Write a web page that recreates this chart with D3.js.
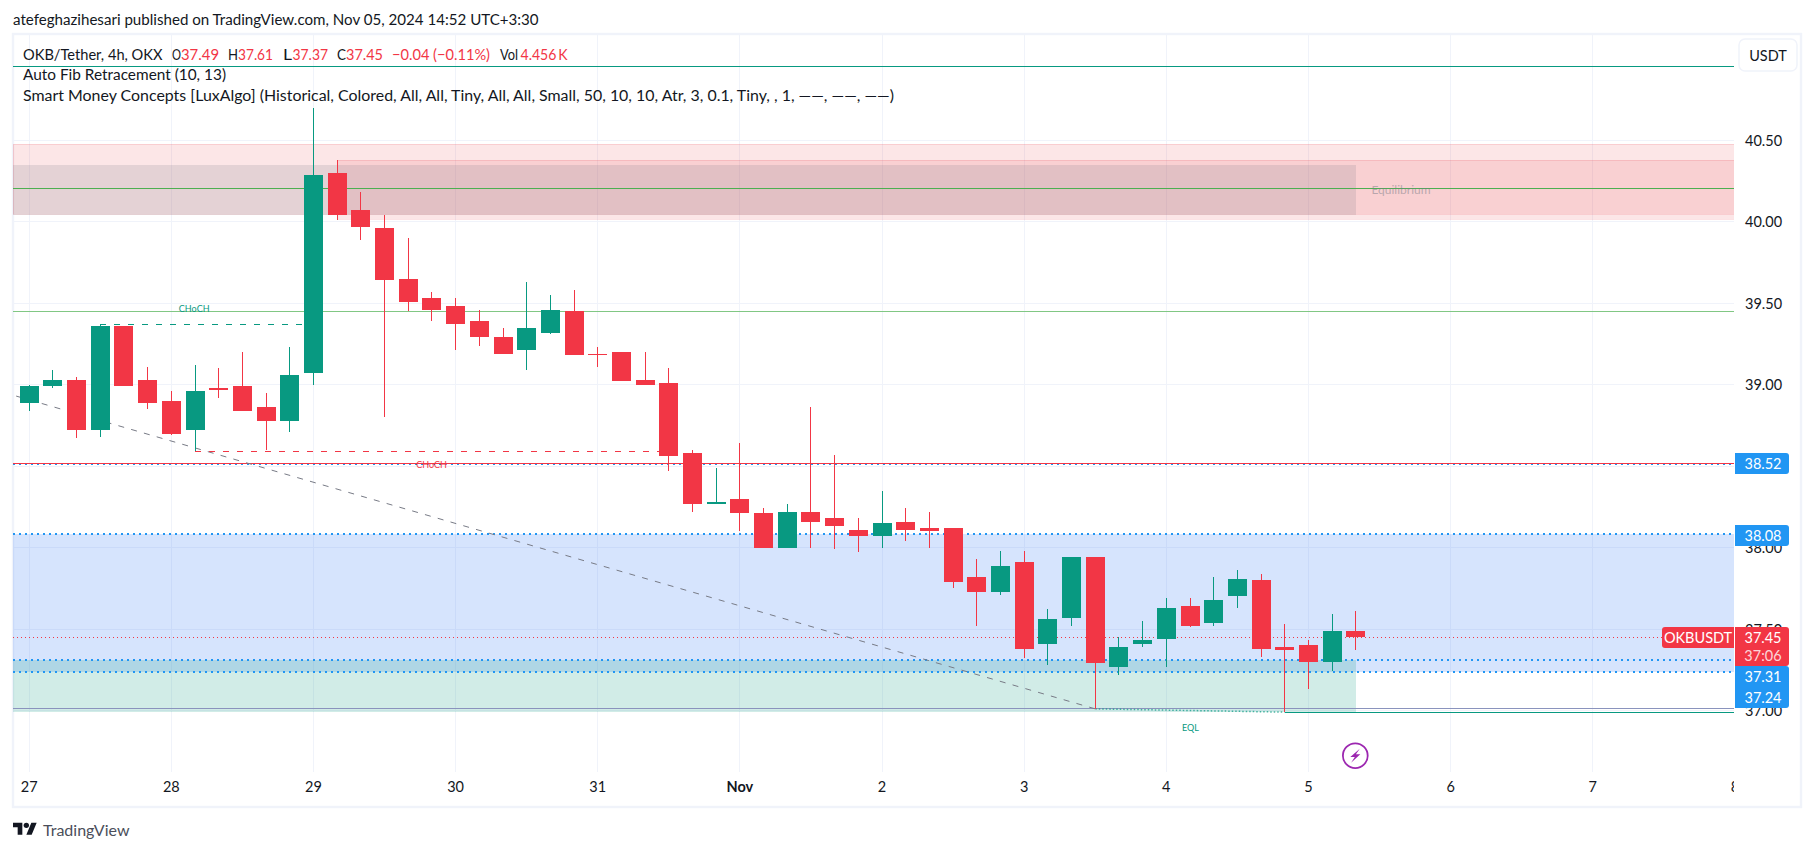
<!DOCTYPE html>
<html><head><meta charset="utf-8">
<style>
html,body{margin:0;padding:0;background:#fff;overflow:hidden}
svg{display:block}
text{font-family:Lato,"Noto Sans",sans-serif}
</style>
<script src="https://cdn.jsdelivr.net/npm/d3@7"></script>
</head><body>
<svg id="c" width="1814" height="851"></svg>
<script>
// ---- data ----
const opens  = [38.89,38.99,39.03,38.72,39.36,39.03,38.90,38.72,38.98,38.99,38.86,38.78,39.07,40.30,40.07,39.96,39.65,39.53,39.48,39.39,39.29,39.21,39.32,39.45,39.19,39.20,39.03,39.01,38.58,38.27,38.30,38.21,38.00,38.22,38.18,38.11,38.07,38.16,38.12,38.12,37.82,37.73,37.91,37.41,37.57,37.94,37.27,37.41,37.44,37.64,37.54,37.70,37.80,37.39,37.40,37.30,37.49];
const highs  = [39.00,39.09,39.05,39.37,39.36,39.11,38.96,39.12,39.10,39.20,38.95,39.23,40.70,40.38,40.18,40.04,39.90,39.57,39.53,39.46,39.35,39.63,39.55,39.58,39.23,39.20,39.20,39.10,38.60,38.49,38.64,38.24,38.27,38.86,38.57,38.18,38.35,38.24,38.22,38.12,37.93,37.98,37.98,37.62,37.94,37.94,37.45,37.55,37.69,37.69,37.82,37.86,37.84,37.53,37.43,37.59,37.61];
const lows   = [38.84,38.98,38.67,38.68,38.99,38.85,38.69,38.59,38.92,38.84,38.60,38.71,39.00,40.01,39.89,38.80,39.45,39.39,39.21,39.24,39.19,39.09,39.31,39.18,39.11,39.02,39.00,38.47,38.22,38.27,38.10,38.00,38.00,38.00,37.99,37.97,38.00,38.04,38.00,37.75,37.52,37.71,37.32,37.28,37.52,37.01,37.22,37.39,37.27,37.51,37.52,37.63,37.33,36.99,37.13,37.24,37.37];
const closes = [38.99,39.03,38.72,39.36,38.99,38.89,38.70,38.96,38.97,38.84,38.78,39.06,40.29,40.04,39.97,39.64,39.51,39.46,39.37,39.29,39.19,39.35,39.46,39.18,39.18,39.02,39.00,38.56,38.27,38.28,38.21,38.00,38.22,38.16,38.13,38.07,38.15,38.11,38.10,37.79,37.73,37.89,37.38,37.56,37.94,37.29,37.39,37.43,37.63,37.52,37.68,37.81,37.38,37.37,37.30,37.49,37.45];
const priceTicks = [40.5,40,39.5,39,38.5,38,37.5,37];
const dayLabels  = ["27","28","29","30","31","Nov","2","3","4","5","6","7","8"];
const legendPieces = [
  ["OKB/Tether, 4h, OKX",23,162.5,"#131722"],["O",172,181,"#131722"],["37.49",181,219,"#f23645"],
  ["H",228,238,"#131722"],["37.61",238,273,"#f23645"],["L",283,292,"#131722"],["37.37",292.5,328,"#f23645"],
  ["C",337,346,"#131722"],["37.45",346,383,"#f23645"],["\u22120.04 (\u22120.11%)",392,490,"#f23645"],
  ["Vol",500,518,"#131722"],["4.456\u2009K",520.5,567.5,"#f23645"]];
const indicatorLines = [
  ["Auto Fib Retracement (10, 13)",23,226,74],
  ["Smart Money Concepts [LuxAlgo] (Historical, Colored, All, All, Tiny, All, All, Small, 50, 10, 10, Atr, 3, 0.1, Tiny, , 1, \u2014\u2014, \u2014\u2014, \u2014\u2014)",23,894,95]];
const supplyZones = [[-1,40.477,40.05],[13,40.38,40.015]];   // [start candle, top, bottom]
const equilibriumBand = [40.35,40.04];
const blueZone = [38.085,37.235];
const demandZone = [37.31,36.99];
const solidLevels = [[40.954,"#089981"],[40.205,"#4caf50"],[39.45,"#81c784"],[38.515,"#f23645"],[37.01,"#8a93bd"]];
const blueDotted = [38.515,38.085,37.31,37.235];
const lastPrice = 37.45;
const fibStart = [-0.55,38.93], fibMid = [45,37.01], fibEnd = [53,36.99];
const chochUp = [3,39.37,11.9], chochDown = [7,38.59,27];
const axisTags = [["38.52",38.52],["38.08",38.08]];

// ---- layout ----
const W=1814,H=851, L=13,R=1734,T=35,B=772;
const svg=d3.select("#c");
const x=d3.scaleLinear().domain([0,6]).range([29.2,171.34]);   // candle index → px (6 candles a day)
const y=d3.scaleLinear().domain([40.5,37]).range([140.3,710.5]);
const px=v=>Math.floor(y(v))+.5;
const zoneEnd=1356;

const defs=svg.append("defs");
defs.append("clipPath").attr("id","plot").append("rect")
  .attr("x",L).attr("y",T).attr("width",R-L).attr("height",B-T);
defs.append("clipPath").attr("id","tscale").append("rect")
  .attr("x",L).attr("y",772).attr("width",R-L).attr("height",34);

// frame
svg.append("rect").attr("x",13).attr("y",34).attr("width",1788).attr("height",773)
  .attr("fill","#fff").attr("stroke","#f0f3fa").attr("stroke-width",2.4);

const dayIdx=dayLabels.map((_,i)=>i*6);

// grid
const grid=svg.append("g").attr("clip-path","url(#plot)").attr("shape-rendering","crispEdges").attr("stroke","#f0f3fa");
grid.selectAll(".v").data(dayIdx).join("line").attr("x1",d=>Math.floor(x(d))+.5).attr("x2",d=>Math.floor(x(d))+.5).attr("y1",T).attr("y2",B);
grid.selectAll(".h").data(priceTicks).join("line").attr("y1",px).attr("y2",px).attr("x1",L).attr("x2",R);

const plot=svg.append("g").attr("clip-path","url(#plot)");

// zones
plot.selectAll(".sz").data(supplyZones).join("rect")
  .attr("x",d=>d[0]<0?L:Math.floor(x(d[0])))
  .attr("width",d=>R-(d[0]<0?L:Math.floor(x(d[0]))))
  .attr("y",d=>Math.round(y(d[1]))).attr("height",d=>Math.round(y(d[2]))-Math.round(y(d[1])))
  .attr("fill","#ea3a46").attr("fill-opacity",.13).attr("stroke","#ea3a46").attr("stroke-opacity",.14).attr("shape-rendering","crispEdges");
plot.append("rect").attr("x",L).attr("width",zoneEnd-L)
  .attr("y",y(equilibriumBand[0])).attr("height",y(equilibriumBand[1])-y(equilibriumBand[0]))
  .attr("fill","#787b86").attr("fill-opacity",.18).attr("shape-rendering","crispEdges");
plot.append("rect").attr("x",L).attr("width",R-L)
  .attr("y",Math.round(y(blueZone[0]))).attr("height",Math.round(y(blueZone[1]))-Math.round(y(blueZone[0])))
  .attr("fill","#2771f4").attr("fill-opacity",.19).attr("shape-rendering","crispEdges");
plot.append("rect").attr("x",L).attr("width",zoneEnd-L)
  .attr("y",Math.round(y(demandZone[0]))).attr("height",Math.round(y(demandZone[1]))-Math.round(y(demandZone[0])))
  .attr("fill","#089981").attr("fill-opacity",.19).attr("shape-rendering","crispEdges");

// blue dotted levels
plot.selectAll(".bd").data(blueDotted).join("line")
  .attr("x1",L).attr("x2",R).attr("y1",d=>Math.round(y(d))).attr("y2",d=>Math.round(y(d)))
  .attr("stroke","#2196f3").attr("stroke-width",2).attr("stroke-dasharray","2 4").attr("shape-rendering","crispEdges");

// solid levels
plot.selectAll(".lvl").data(solidLevels).join("line")
  .attr("x1",L).attr("x2",R).attr("y1",d=>px(d[0])).attr("y2",d=>px(d[0]))
  .attr("stroke",d=>d[1]).attr("shape-rendering","crispEdges");

// last price dotted
plot.append("line").attr("x1",L).attr("x2",R).attr("y1",px(lastPrice)).attr("y2",px(lastPrice))
  .attr("stroke","#f23645").attr("stroke-dasharray","1 3").attr("shape-rendering","crispEdges");

// fib trend lines
plot.append("line").attr("x1",x(fibStart[0])).attr("y1",y(fibStart[1])).attr("x2",x(fibMid[0])).attr("y2",y(fibMid[1]))
  .attr("stroke","#787b86").attr("stroke-dasharray","6 7.3");
plot.append("line").attr("x1",x(fibMid[0])).attr("y1",y(fibMid[1])).attr("x2",x(fibEnd[0])).attr("y2",y(fibEnd[1]))
  .attr("stroke","#089981").attr("stroke-opacity",.7).attr("stroke-width",1.5).attr("stroke-dasharray","1.5 2");
plot.append("line").attr("x1",x(fibEnd[0])).attr("y1",px(fibEnd[1])).attr("x2",R).attr("y2",px(fibEnd[1]))
  .attr("stroke","#089981").attr("shape-rendering","crispEdges");

// structure lines
plot.append("line").attr("x1",x(chochUp[0])).attr("x2",x(chochUp[2])).attr("y1",px(chochUp[1])).attr("y2",px(chochUp[1]))
  .attr("stroke","#089981").attr("stroke-dasharray","6 8").attr("shape-rendering","crispEdges");
plot.append("line").attr("x1",x(chochDown[0])).attr("x2",x(chochDown[2])).attr("y1",px(chochDown[1])).attr("y2",px(chochDown[1]))
  .attr("stroke","#f23645").attr("stroke-dasharray","6 8").attr("shape-rendering","crispEdges");

// candles
const idx=d3.range(opens.length);
const col=i=>closes[i]>=opens[i]?"#089981":"#f23645";
const cg=plot.append("g").attr("shape-rendering","crispEdges");
cg.selectAll(".w").data(idx).join("rect")
  .attr("x",i=>Math.floor(x(i))).attr("width",1)
  .attr("y",i=>Math.round(y(highs[i]))).attr("height",i=>Math.round(y(lows[i]))-Math.round(y(highs[i])))
  .attr("fill",col);
cg.selectAll(".b").data(idx).join("rect")
  .attr("x",i=>Math.floor(x(i))-9).attr("width",19)
  .attr("y",i=>Math.round(y(Math.max(opens[i],closes[i]))))
  .attr("height",i=>Math.max(1,Math.round(y(Math.min(opens[i],closes[i])))-Math.round(y(Math.max(opens[i],closes[i])))))
  .attr("fill",col);

// small labels
const small=(t,cx,cy,fill,fs,op)=>svg.append("text").attr("x",cx).attr("y",cy).attr("text-anchor","middle")
  .attr("dominant-baseline","central").attr("font-size",fs).attr("fill",fill).attr("fill-opacity",op||1).text(t);
small("CHoCH",194.2,308.7,"#089981",9);
small("CHoCH",431.5,464.5,"#f23645",9);
small("EQL",1190.5,727,"#089981",9);
small("Equilibrium",1401,189.5,"#787b86",12,.5);

// axes
const yAxis=d3.axisRight(y).tickValues(priceTicks).tickFormat(d3.format(".2f")).tickSize(0).tickPadding(0);
const ya=svg.append("g").attr("transform","translate(1745,0)").call(yAxis);
ya.select(".domain").remove();
ya.selectAll("text").attr("font-size",14.5).attr("fill","#131722").attr("font-family","Lato,sans-serif").attr("dy",".35em");

const xAxis=d3.axisBottom(x).tickValues(dayIdx).tickFormat((d,i)=>dayLabels[i]).tickSize(0).tickPadding(0);
const xa=svg.append("g").attr("clip-path","url(#tscale)").append("g").attr("transform","translate(-0.5,782)").call(xAxis);
xa.select(".domain").remove();
xa.selectAll("text").attr("font-size",14.5).attr("fill","#131722").attr("font-family","Lato,sans-serif")
  .attr("font-weight",(d,i)=>dayLabels[i]==="Nov"?700:400);

// axis tags
const tag=(x0,y0,w,h,fill,r)=>{
  const right=r==="r";
  const p=right?`M${x0},${y0}h${w-3}a3,3 0 0 1 3,3v${h-6}a3,3 0 0 1 -3,3h${-(w-3)}z`
               :`M${x0+w},${y0}h${-(w-3)}a3,3 0 0 0 -3,3v${h-6}a3,3 0 0 0 3,3h${w-3}z`;
  svg.append("path").attr("d",p).attr("fill",fill);
};
const tagText=(t,cx,cy,op)=>svg.append("text").attr("x",cx).attr("y",cy).attr("text-anchor","middle").attr("dominant-baseline","central")
  .attr("font-size",14.5).attr("fill","#fff").attr("fill-opacity",op||1).text(t);

axisTags.forEach(d=>{const yy=Math.round(y(d[1]));tag(1735,yy-10,54,21,"#2196f3","r");tagText(d[0],1763,yy+.5);});
tag(1735,666,54,42,"#2196f3","r");
tagText("37.31",1763,676.7);tagText("37.24",1763,697.7);
tag(1735,627,54,39,"#f23645","r");
tagText("37.45",1763,637);tagText("37:06",1763,655,.8);
tag(1662,627,72,21,"#f23645","l");
tagText("OKBUSDT",1698,637.5);

// USDT button
svg.append("rect").attr("x",1739).attr("y",39).attr("width",58).attr("height",32).attr("rx",6)
  .attr("fill","#fff").attr("stroke","#f0f3fa").attr("stroke-width",1.5);
svg.append("text").attr("x",1768).attr("y",55).attr("text-anchor","middle").attr("dominant-baseline","central")
  .attr("font-size",14.5).attr("fill","#131722").text("USDT");

// texts
const fit=(t,x0,x1,cy,fill)=>svg.append("text").attr("x",x0).attr("y",cy).attr("dominant-baseline","central")
  .attr("font-size",14.5).attr("fill",fill).attr("textLength",x1-x0).attr("lengthAdjust","spacingAndGlyphs").text(t);
fit("atefeghazihesari published on TradingView.com, Nov 05, 2024 14:52 UTC+3:30",13,538.6,19,"#131722");
legendPieces.forEach(d=>fit(d[0],d[1],d[2],54.5,d[3]));
indicatorLines.forEach(d=>fit(d[0],d[1],d[2],d[3],"#131722"));

// lightning icon
const bolt=svg.append("g").attr("transform","translate(1355.3,755.7)");
bolt.append("circle").attr("r",12.4).attr("fill","#fff").attr("stroke","#9c27b0").attr("stroke-width",1.8);
bolt.append("path").attr("d","M4.5,-7 L-5,1.4 L-0.5,1.4 L-4.2,7 L5,-1.4 L0.6,-1.4 Z").attr("fill","#9c27b0");

// TradingView logo
const logo=svg.append("g").attr("transform","translate(13,820) scale(.667)").attr("fill","#131722");
logo.append("path").attr("d","M14 22H7V11H0V4h14v18zM28 22h-8l7.5-18h8L28 22z");
logo.append("circle").attr("cx",20).attr("cy",8).attr("r",4);
svg.append("text").attr("x",43).attr("y",830).attr("dominant-baseline","central").attr("font-size",15.5)
  .attr("fill","#4a4e5a").attr("textLength",86.5).attr("lengthAdjust","spacingAndGlyphs").text("TradingView");
</script>
</body></html>
